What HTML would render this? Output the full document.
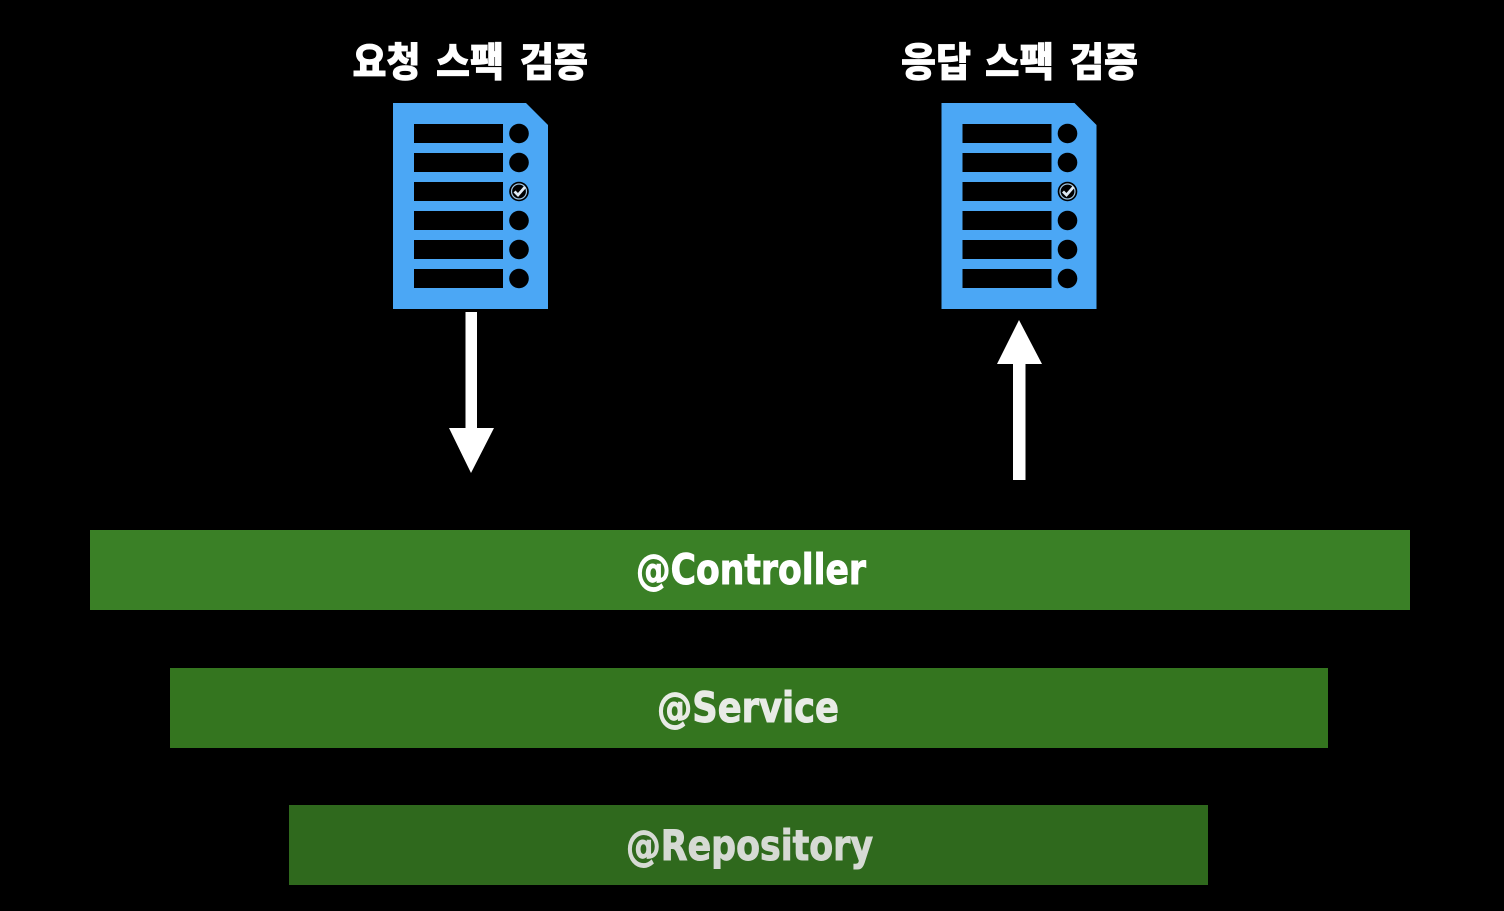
<!DOCTYPE html>
<html lang="ko">
<head>
<meta charset="utf-8">
<style>
html,body{margin:0;padding:0;background:#000;width:1504px;height:911px;overflow:hidden}
svg{display:block}
.t{font-family:"Liberation Sans","Noto Sans CJK KR",sans-serif;font-weight:900;font-size:40px;fill:#fff;stroke:#fff;stroke-width:.7px}
.l{font-family:"DejaVu Sans",sans-serif;font-weight:700;font-size:42px;stroke-width:1px}
</style>
</head>
<body>
<svg width="1504" height="911" viewBox="0 0 1504 911" xmlns="http://www.w3.org/2000/svg">
<defs>
<g id="doc">
<path d="M0 0H133L155 22V206H0Z" fill="#4ba7f5"/>
<g fill="#000">
<rect x="21" y="21" width="89" height="19"/><circle cx="126" cy="30.500" r="9.800"/>
<rect x="21" y="50" width="89" height="19"/><circle cx="126" cy="59.500" r="9.800"/>
<rect x="21" y="79" width="89" height="19"/><circle cx="126" cy="88.500" r="9.800"/>
<rect x="21" y="108" width="89" height="19"/><circle cx="126" cy="117.500" r="9.800"/>
<rect x="21" y="137" width="89" height="19"/><circle cx="126" cy="146.500" r="9.800"/>
<rect x="21" y="166" width="89" height="19"/><circle cx="126" cy="175.500" r="9.800"/>
</g>
<circle cx="126" cy="88.500" r="7.500" fill="none" stroke="#9fc4e0" stroke-width="1.200"/>
<path d="M121.500 88.500L125 92L132 84" fill="none" stroke="#dfeaf3" stroke-width="2.800"/>
</g>
</defs>
<rect width="1504" height="911" fill="#000"/>

<text class="t" x="352.500" y="76" textLength="68" lengthAdjust="spacingAndGlyphs">요청</text>
<text class="t" x="436" y="76" textLength="68" lengthAdjust="spacingAndGlyphs">스팩</text>
<text class="t" x="520" y="76" textLength="68" lengthAdjust="spacingAndGlyphs">검증</text>
<text class="t" x="901" y="76" textLength="70" lengthAdjust="spacingAndGlyphs">응답</text>
<text class="t" x="985" y="76" textLength="69" lengthAdjust="spacingAndGlyphs">스팩</text>
<text class="t" x="1070" y="76" textLength="68" lengthAdjust="spacingAndGlyphs">검증</text>

<use href="#doc" x="393" y="103"/>
<use href="#doc" x="941.500" y="103"/>

<path d="M465.500 312H477V428H494L471 473L449 428H465.500Z" fill="#fff"/>
<path d="M1013 480H1025.500V364H1042L1019 320L997 364H1013Z" fill="#fff"/>

<rect x="90" y="530" width="1320" height="80" fill="#3a8026"/>
<rect x="170" y="668" width="1158" height="80" fill="#34751f"/>
<rect x="289" y="805" width="919" height="80" fill="#2f691d"/>

<text class="l" x="636" y="584" textLength="230" lengthAdjust="spacingAndGlyphs" fill="#ffffff" stroke="#ffffff">@Controller</text>
<text class="l" x="657" y="722" textLength="182" lengthAdjust="spacingAndGlyphs" fill="#e8ebe6" stroke="#e8ebe6">@Service</text>
<text class="l" x="626" y="860" textLength="247" lengthAdjust="spacingAndGlyphs" fill="#d6dad4" stroke="#d6dad4">@Repository</text>
</svg>
</body>
</html>
